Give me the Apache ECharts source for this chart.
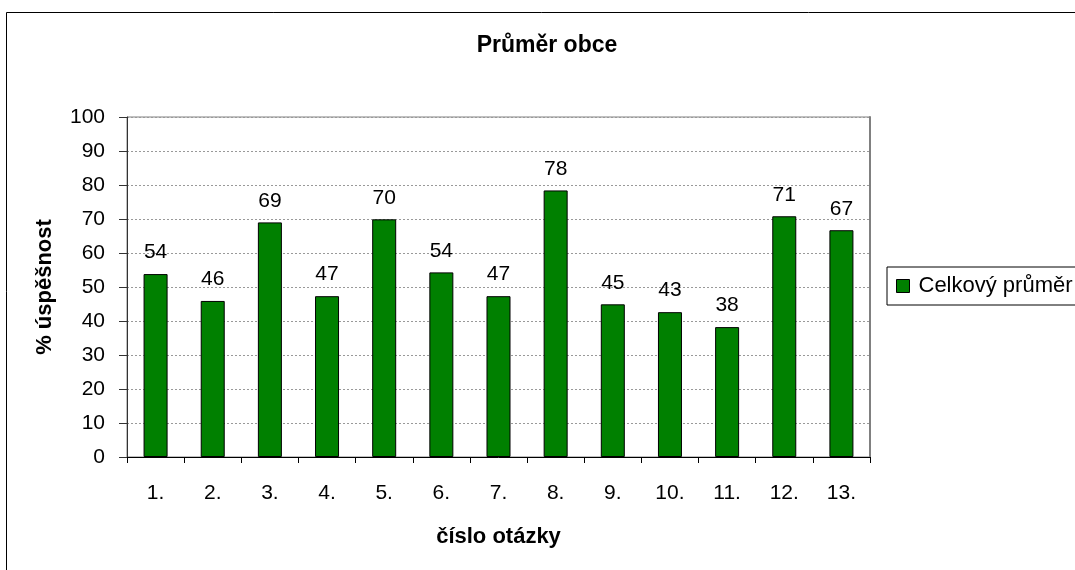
<!DOCTYPE html>
<html>
<head>
<meta charset="utf-8">
<script src="https://cdn.jsdelivr.net/npm/echarts@6/dist/echarts.min.js"></script>
<style>html,body{margin:0;padding:0;background:#fff}#c{width:1075px;height:570px}</style>
</head>
<body>
<div id="c"></div>
<script>
const categories = ['1.', '2.', '3.', '4.', '5.', '6.', '7.', '8.', '9.', '10.', '11.', '12.', '13.'];
const values = [53.8, 45.9, 69.0, 47.3, 69.9, 54.3, 47.3, 78.4, 44.9, 42.6, 38.2, 70.8, 66.7];
const yTicks = [0, 10, 20, 30, 40, 50, 60, 70, 80, 90, 100];
const seriesName = 'Celkový průměr';
const titleText = 'Průměr obce';
const xName = 'číslo otázky';
const yName = '% úspěšnost';

const FONT = 'Liberation Sans, Arial, sans-serif';
const chart = echarts.init(document.getElementById('c'), null, {renderer: 'canvas'});
chart.setOption({
  animation: false,
  backgroundColor: '#fff',
  textStyle: {fontFamily: FONT},
  title: {
    text: titleText, left: 547, top: 34, textAlign: 'center', padding: 0,
    textStyle: {fontFamily: FONT, fontSize: 23, fontWeight: 'bold', color: '#000'}
  },
  graphic: [{
    type: 'rect', shape: {x: 6.5, y: 12.5, width: 1100, height: 600},
    style: {fill: 'none', stroke: '#000', lineWidth: 1}, silent: true, z: -10
  }],
  legend: {
    left: 887, top: 267, orient: 'vertical',
    padding: [8, 20, 8, 9], itemGap: 0, itemWidth: 13, itemHeight: 13,
    borderColor: '#000', borderWidth: 1, backgroundColor: '#fff',
    icon: 'rect',
    textStyle: {fontFamily: FONT, fontSize: 22, color: '#000', padding: [0, 0, 0, 4]},
    itemStyle: {borderColor: '#000', borderWidth: 1},
    data: [seriesName]
  },
  grid: {
    left: 127, right: 205, top: 117, bottom: 113,
    show: true, borderColor: '#808080', borderWidth: 1, containLabel: false
  },
  xAxis: {
    type: 'category', data: categories,
    name: xName, nameLocation: 'middle', nameGap: 69,
    nameTextStyle: {fontFamily: FONT, fontSize: 22, fontWeight: 'bold', color: '#000'},
    axisLine: {lineStyle: {color: '#000', width: 1}},
    axisTick: {show: true, length: 6, lineStyle: {color: '#000'}},
    axisLabel: {fontFamily: FONT, fontSize: 21, color: '#000', margin: 26, interval: 0},
    splitLine: {show: false}
  },
  yAxis: [{
    type: 'value', min: yTicks[0], max: yTicks[yTicks.length - 1], interval: 10,
    name: yName, nameLocation: 'middle', nameGap: 71, nameRotate: 90,
    nameTextStyle: {fontFamily: FONT, fontSize: 22, fontWeight: 'bold', color: '#000'},
    axisLine: {show: true, lineStyle: {color: '#333', width: 1}},
    axisTick: {show: true, length: 8, lineStyle: {color: '#333'}},
    axisLabel: {fontFamily: FONT, fontSize: 21, color: '#000', margin: 22},
    splitLine: {show: true, lineStyle: {color: '#999', type: [2, 2], width: 1}}
  }, {
    type: 'value', min: 0, max: 100, position: 'right',
    axisLine: {show: true, lineStyle: {color: '#808080', width: 2}},
    axisTick: {show: false}, axisLabel: {show: false}, splitLine: {show: false}
  }],
  series: [{
    name: seriesName, type: 'bar', data: values, barWidth: '42%',
    itemStyle: {color: '#008000', borderColor: '#000', borderWidth: 1},
    label: {
      show: true, position: 'top', distance: 11,
      fontFamily: FONT, fontSize: 21, color: '#000',
      formatter: p => Math.round(p.value)
    }
  }]
});
</script>
</body>
</html>
